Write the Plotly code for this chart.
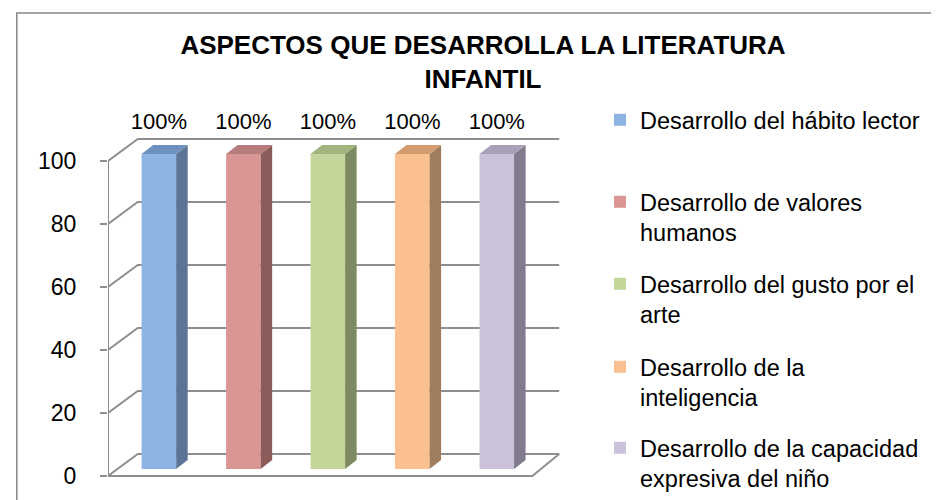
import plotly.graph_objects as go

# ---------------- data ----------------
categories = [
    "Desarrollo del hábito lector",
    "Desarrollo de valores<br>humanos",
    "Desarrollo del gusto por el<br>arte",
    "Desarrollo de la<br>inteligencia",
    "Desarrollo de la capacidad<br>expresiva del niño",
]
values = [100, 100, 100, 100, 100]
value_labels = ["100%", "100%", "100%", "100%", "100%"]
y_ticks = [0, 20, 40, 60, 80, 100]

front_colors = ["#8DB4E2", "#DA9694", "#C4D79B", "#FAC090", "#CCC1DA"]
top_colors = ["#6E90C0", "#B67C7B", "#A2B57C", "#D29C70", "#A9A0B8"]
side_colors = ["#5B7596", "#8C5C5B", "#7E8B62", "#A07D5D", "#817B8D"]

# ---------------- layout geometry ----------------
W, H = 939, 500
L, R, T, B = 100, 339, 100, 28
PW, PH = W - L - R, H - T - B
X0_PX, STEP_PX = 153.0, 88.0      # first category centre / spacing (px)
Y0_PX, PPU = 468.0, 3.15          # value 0 position / px per unit

def px_to_paper_x(px):
    return (px - L) / PW

def px_to_paper_y(py):
    return (H - B - py) / PH

x_range = [(L - X0_PX) / STEP_PX, (L + PW - X0_PX) / STEP_PX]
y_range = [(Y0_PX - (H - B)) / PPU, (Y0_PX - T) / PPU]

x_left = x_range[0]
floor_dx, floor_dy = 31 / STEP_PX, 22 / PPU
x_front_right = (542 - X0_PX) / STEP_PX
x_back_right = (570 - X0_PX) / STEP_PX
bar_w = 36 / STEP_PX
bar_base = 2.2
bar_dx, bar_dy = 12 / STEP_PX, 2.9
label_off = 12

GRID = "#8E8E8E"
FONT = "Liberation Sans, Arial, sans-serif"

fig = go.Figure()
idx = list(range(len(categories)))

# front faces (legend entries)
for i, (name, v) in enumerate(zip(categories, values)):
    fig.add_trace(go.Bar(
        x=[idx[i]], y=[v], base=[bar_base], width=bar_w,
        name=name, marker=dict(color=front_colors[i], line=dict(width=0)),
        legend="legend" if i == 0 else f"legend{i + 1}",
        hoverinfo="skip",
    ))

# side and top faces
for i, v in enumerate(values):
    xr = idx[i] + bar_w / 2
    xl = idx[i] - bar_w / 2
    top = bar_base + v
    fig.add_trace(go.Scatter(
        x=[xr, xr + bar_dx, xr + bar_dx, xr, xr],
        y=[bar_base, bar_base + bar_dy, top + bar_dy, top, bar_base],
        mode="lines", fill="toself", fillcolor=side_colors[i],
        line=dict(width=0, color=side_colors[i]), showlegend=False,
        hoverinfo="skip", cliponaxis=False,
    ))
    fig.add_trace(go.Scatter(
        x=[xl, xr, xr + bar_dx, xl + bar_dx, xl],
        y=[top, top, top + bar_dy, top + bar_dy, top],
        mode="lines", fill="toself", fillcolor=top_colors[i],
        line=dict(width=0, color=top_colors[i]), showlegend=False,
        hoverinfo="skip", cliponaxis=False,
    ))

# data labels
fig.add_trace(go.Scatter(
    x=idx, y=[v + label_off for v in values], mode="text", text=value_labels,
    textfont=dict(size=22, color="#000000", family=FONT), showlegend=False,
    hoverinfo="skip", cliponaxis=False,
))

# gridlines, floor and axis as shapes below the bars
shapes = []
for v in y_ticks:
    shapes.append(dict(
        type="path", xref="x", yref="y", layer="below",
        path=f"M{x_left},{v} L{x_left + floor_dx},{v + floor_dy} L{x_back_right},{v + floor_dy}",
        line=dict(color=GRID, width=2),
    ))
shapes.append(dict(
    type="path", xref="x", yref="y", layer="below",
    path=f"M{x_left},0 L{x_front_right},0 L{x_back_right},{floor_dy}",
    line=dict(color=GRID, width=2),
))
shapes.append(dict(
    type="line", xref="x", yref="y", layer="below",
    x0=x_left, y0=0, x1=x_left, y1=y_ticks[-1],
    line=dict(color=GRID, width=2),
))
# chart border
shapes.append(dict(
    type="rect", xref="paper", yref="paper", layer="below",
    x0=px_to_paper_x(5), y0=px_to_paper_y(H + 20), x1=px_to_paper_x(W + 20), y1=px_to_paper_y(5),
    line=dict(color="#868686", width=1.5), fillcolor="rgba(0,0,0,0)",
))

legend_first_line_px = [120, 202, 284, 367, 448]
legends = {}
for i, yc in enumerate(legend_first_line_px):
    key = "legend" if i == 0 else f"legend{i + 1}"
    legends[key] = dict(
        xref="container", yref="container",
        x=592 / W, y=1 - (yc - 30) / H, xanchor="left", yanchor="top",
        font=dict(size=23.5, color="#000000", family=FONT),
        bgcolor="rgba(0,0,0,0)", valign="top", borderwidth=0,
    )

fig.update_layout(
    width=W, height=H,
    margin=dict(l=L, r=R, t=T, b=B),
    paper_bgcolor="white", plot_bgcolor="white",
    barmode="overlay",
    showlegend=True,
    title=dict(
        text="<b>ASPECTOS QUE DESARROLLA LA LITERATURA<br>INFANTIL</b>",
        xref="container", yref="container", x=475 / W, xanchor="center",
        y=1 - 46 / H, yanchor="top",
        font=dict(size=26, color="#000000", family=FONT),
    ),
    xaxis=dict(range=x_range, showgrid=False, zeroline=False, showline=False,
               showticklabels=False, ticks="", fixedrange=True),
    yaxis=dict(range=y_range, tickvals=y_ticks, ticktext=[str(t) for t in y_ticks],
               showgrid=False, zeroline=False, showline=False,
               ticks="outside", ticklen=7, tickwidth=2, tickcolor=GRID,
               ticklabelstandoff=19,
               tickfont=dict(size=23, color="#000000", family=FONT)),
    shapes=shapes,
    **legends,
)

fig.write_html("out.html")
